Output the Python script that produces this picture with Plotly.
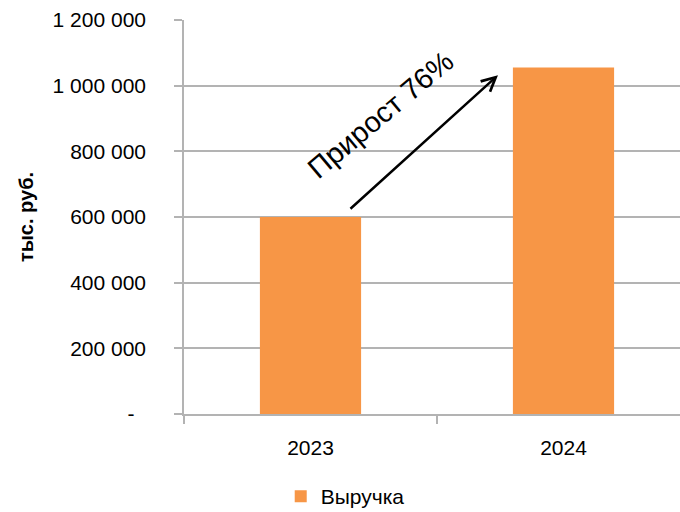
import plotly.graph_objects as go

# Revenue by year, thousand roubles
years = ["2023", "2024"]
revenue = [600000, 1055000]
series_name = "Выручка"

y_ticks = [0, 200000, 400000, 600000, 800000, 1000000, 1200000]
y_tick_text = ["-\u00a0\u00a0", "200 000", "400 000", "600 000", "800 000", "1 000 000", "1 200 000"]

growth_pct = round((revenue[1] / revenue[0] - 1) * 100)

FONT = "Liberation Sans, Arial, sans-serif"
GRID = "#b3b3b3"

fig = go.Figure(
    go.Bar(
        x=years,
        y=revenue,
        name=series_name,
        marker=dict(color="#F79646", line=dict(width=0)),
        showlegend=True,
    )
)

fig.update_layout(
    width=680,
    height=512,
    margin=dict(l=184, r=0, t=20, b=98, autoexpand=False),
    paper_bgcolor="white",
    plot_bgcolor="white",
    bargap=0.6,
    font=dict(family=FONT, size=21, color="black"),
    showlegend=True,
    legend=dict(
        orientation="h",
        x=0.195,
        xanchor="left",
        yref="container",
        y=0.03,
        yanchor="middle",
        font=dict(size=21),
        itemwidth=30,
    ),
    xaxis=dict(
        type="category",
        range=[-0.5, 1.5 - 10 / 253],
        showline=True,
        linecolor=GRID,
        linewidth=1.5,
        ticks="outside",
        tickson="boundaries",
        ticklen=8,
        tickcolor=GRID,
        tickwidth=1.5,
        ticklabelstandoff=14,
        showgrid=False,
        tickfont=dict(size=21),
    ),
    yaxis=dict(
        range=[0, 1200000],
        tickvals=y_ticks,
        ticktext=y_tick_text,
        showline=True,
        linecolor=GRID,
        linewidth=1.5,
        ticks="outside",
        ticklen=8,
        tickcolor=GRID,
        tickwidth=1.5,
        showgrid=True,
        gridcolor=GRID,
        gridwidth=1.5,
        zeroline=False,
        ticklabelstandoff=24,
        tickfont=dict(size=21),
    ),
)

# Growth arrow between the two bars
fig.add_annotation(
    x=0.741, y=1032000,
    ax=0.152, ay=621000,
    xref="x", yref="y", axref="x", ayref="y",
    showarrow=True,
    arrowhead=5,
    arrowsize=1.1,
    arrowwidth=2.5,
    arrowcolor="black",
    text="",
)

fig.add_annotation(
    x=0.275, y=911000,
    xref="x", yref="y",
    text=f"Прирост {growth_pct}%",
    showarrow=False,
    textangle=-40,
    font=dict(size=29, color="black", family=FONT),
)

# Axis title
fig.add_annotation(
    x=0, y=0.5, xref="paper", yref="paper",
    xshift=-171,
    text="<b>тыс. руб.</b>",
    textangle=-90,
    showarrow=False,
    font=dict(size=20, color="black", family=FONT),
)

fig.write_html("out.html")
